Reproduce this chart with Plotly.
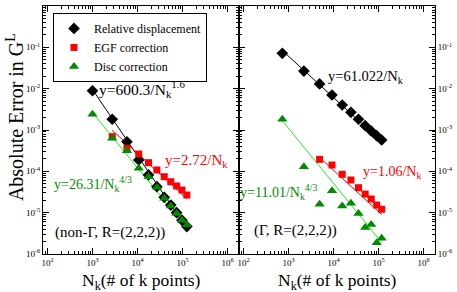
import plotly.graph_objects as go

# ---------------- data ----------------
N_left = [1000, 2744, 5832, 10648, 17576, 27000, 39304, 54872, 74088, 97336, 125000]
N_right = [729, 2197, 4913, 9261, 15625, 24389, 35937, 50653, 68921, 91125, 117649]

rel_left = [8.9e-3, 1.82e-3, 5.2e-4, 1.88e-4, 8.2e-5, 4.25e-5, 2.35e-5, 1.53e-5, 1.0e-5, 6.6e-6, 4.6e-6]
egf_left = [6.9e-4, 3.61e-4, 2.62e-4, 1.62e-4, 1.08e-4, 7.41e-5, 5.61e-5, 4.42e-5, 3.53e-5, 2.67e-5]
disc_left = [2.40e-3, 6.30e-4, 3.16e-4, 1.18e-4, 7.41e-5, 4.10e-5, 2.22e-5, 1.45e-5, 9.6e-6, 6.6e-6, 5.0e-6]

rel_right = [7.18e-2, 2.67e-2, 1.30e-2, 7.03e-3, 4.03e-3, 2.68e-3, 1.82e-3, 1.27e-3, 9.46e-4, 7.28e-4, 5.73e-4]
egf_right = [1.95e-4, 1.42e-4, 8.47e-5, 6.17e-5, 4.02e-5, 2.82e-5, 2.14e-5, 1.53e-5, 1.21e-5]
disc_right = [1.82e-3, 1.29e-4, 1.59e-5, 3.40e-5, 1.45e-5, 1.68e-5, 9.6e-6, 4.4e-6, 5.2e-6, 1.87e-6, 2.39e-6]

# fits shown in the chart: y = A / N^p
fit_rel_left = (600.3, 1.6)
fit_egf_left = (2.72, 1.0)
fit_disc_left = (26.31, 4.0 / 3.0)
fit_rel_right = (61.022, 1.0)
fit_egf_right = (1.06, 1.0)
fit_disc_right = (11.01, 4.0 / 3.0)

y_tickvals = [1e-6, 1e-5, 1e-4, 1e-3, 1e-2, 1e-1, 1]
y_ticktext = ["10<sup>-6</sup>", "10<sup>-5</sup>", "10<sup>-4</sup>", "10<sup>-3</sup>",
              "10<sup>-2</sup>", "10<sup>-1</sup>", "10<sup>0</sup>"]
x_tickvals = [1e2, 1e3, 1e4, 1e5, 1e6]
x_ticktext = ["10<sup>2</sup>", "10<sup>3</sup>", "10<sup>4</sup>", "10<sup>5</sup>", "10<sup>6</sup>"]

# ---------------- style ----------------
FONT = "Liberation Serif, Times New Roman, serif"
BLACK = "#000000"
RED = "#ff0000"
GREEN = "#008b00"
LIME = "#22ee22"

x_minor = [k * 10 ** e for e in range(1, 7) for k in range(2, 10)]
y_minor = [k * 10.0 ** e for e in range(-7, 0) for k in range(2, 10)]


def fit_line(Ns, fit):
    A, p = fit
    xs = [Ns[0], Ns[-1]]
    return xs, [A / n ** p for n in xs]


fig = go.Figure()


def add_panel(xa, ya, Nall, rel, egf, disc, frel, fegf, fdisc, showlegend):
    n_egf = Nall[len(Nall) - len(egf):]
    for Ns, fit, col in [(Nall, frel, BLACK), (n_egf, fegf, RED), (Nall, fdisc, LIME)]:
        xs, ys = fit_line(Ns, fit)
        fig.add_trace(go.Scatter(x=xs, y=ys, mode="lines", line=dict(color=col, width=1),
                                 xaxis=xa, yaxis=ya, showlegend=False, hoverinfo="skip"))
    fig.add_trace(go.Scatter(x=Nall, y=rel, mode="markers", name="Relative displacement",
                             marker=dict(symbol="diamond", size=9, color=BLACK),
                             xaxis=xa, yaxis=ya, showlegend=showlegend))
    fig.add_trace(go.Scatter(x=n_egf, y=egf, mode="markers", name="EGF correction",
                             marker=dict(symbol="square", size=7, color=RED),
                             xaxis=xa, yaxis=ya, showlegend=showlegend))
    fig.add_trace(go.Scatter(x=Nall, y=disc, mode="markers", name="Disc correction",
                             marker=dict(symbol="triangle-up", size=9, color=GREEN),
                             xaxis=xa, yaxis=ya, showlegend=showlegend))


add_panel("x", "y", N_left, rel_left, egf_left, disc_left,
          fit_rel_left, fit_egf_left, fit_disc_left, True)
add_panel("x2", "y2", N_right, rel_right, egf_right, disc_right,
          fit_rel_right, fit_egf_right, fit_disc_right, False)

tickfont = dict(family=FONT, size=9, color=BLACK)
common_x = dict(type="log", range=[1.9, 6.256], tickmode="array", tickvals=x_tickvals,
                ticktext=x_ticktext,
                ticks="inside", ticklen=6, tickcolor=BLACK, showline=True, linecolor=BLACK,
                linewidth=1, mirror="allticks", showgrid=False, zeroline=False,
                tickfont=tickfont, automargin=False,
                minor=dict(tickmode="array", tickvals=x_minor, ticks="inside", ticklen=3,
                           tickcolor=BLACK, showgrid=False))
common_y = dict(type="log", range=[-6, 0], tickmode="array", tickvals=y_tickvals,
                ticktext=y_ticktext,
                ticks="inside", ticklen=6, tickcolor=BLACK, showline=True, linecolor=BLACK,
                linewidth=1, mirror="allticks", showgrid=False, zeroline=False,
                tickfont=tickfont, automargin=False,
                minor=dict(tickmode="array", tickvals=y_minor, ticks="inside", ticklen=3,
                           tickcolor=BLACK, showgrid=False))

fig.update_layout(
    width=457, height=292,
    margin=dict(l=43, r=22, t=6, b=38),
    paper_bgcolor="white", plot_bgcolor="white",
    font=dict(family=FONT, color=BLACK),
    xaxis=dict(domain=[0, 0.5], anchor="y", **common_x),
    yaxis=dict(domain=[0, 1], anchor="x", side="left", **common_y),
    xaxis2=dict(domain=[0.5, 1], anchor="y2", **common_x),
    yaxis2=dict(domain=[0, 1], anchor="x2", side="right", **common_y),
    legend=dict(x=0.0255, y=0.972, xanchor="left", yanchor="top",
                bordercolor=BLACK, borderwidth=1, bgcolor="white",
                font=dict(family=FONT, size=12, color=BLACK),
                itemwidth=30, tracegroupgap=0),
    showlegend=True,
)

# (text, x-centre in log10 N, y-centre in log10 err, axes, colour, size)
annotations = [
    ("y=600.3/N<sub>k</sub><sup>1.6</sup>", 4.10, -2.01, "x", "y", BLACK, 15.5),
    ("y=2.72/N<sub>k</sub>", 5.311, -3.75, "x", "y", RED, 15),
    ("y=26.31/N<sub>k</sub><sup>4/3</sup>", 3.022, -4.295, "x", "y", GREEN, 14),
    ("(non-Γ, R=(2,2,2))", 3.378, -5.49, "x", "y", BLACK, 15),
    ("y=61.022/N<sub>k</sub>", 4.72, -1.72, "x2", "y2", BLACK, 14.5),
    ("y=1.06/N<sub>k</sub>", 5.300, -4.04, "x2", "y2", RED, 14),
    ("y=11.01/N<sub>k</sub><sup>4/3</sup>", 2.78, -4.51, "x2", "y2", GREEN, 14),
    ("(Γ, R=(2,2,2))", 3.164, -5.44, "x2", "y2", BLACK, 15),
]
for text, ax, ay, xr, yr, col, sz in annotations:
    fig.add_annotation(text=text, x=ax, y=ay, xref=xr, yref=yr, showarrow=False,
                       xanchor="center", yanchor="middle",
                       font=dict(family=FONT, size=sz, color=col))

# axis titles
fig.add_annotation(text="Absolute Error in G<sup>L</sup>", xref="paper", yref="paper",
                   x=-0.0714, y=0.552, textangle=-90, showarrow=False,
                   xanchor="center", yanchor="middle",
                   font=dict(family=FONT, size=20, color=BLACK))
for xc in [0.25, 0.75]:
    fig.add_annotation(text="N<sub>k</sub>(# of k points)", xref="paper", yref="paper",
                       x=xc, y=-0.056, showarrow=False, xanchor="center", yanchor="top",
                       font=dict(family=FONT, size=17.5, color=BLACK))

fig.write_html("out.html", config={"displayModeBar": False},
               post_script="document.body.style.margin='0px';")
